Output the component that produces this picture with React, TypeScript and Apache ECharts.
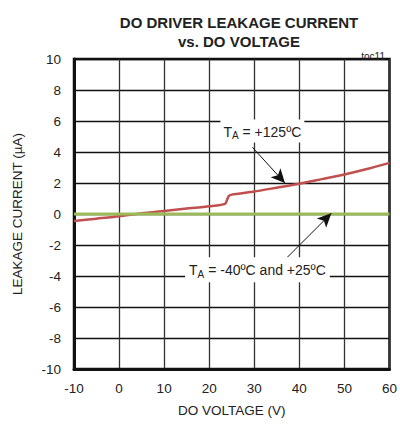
import React, { useEffect, useRef } from "react";
import * as echarts from "echarts";

const voltage125 = [-10, -5, 0, 5, 10, 15, 20, 23.5, 24.3, 25, 30, 35, 40, 45, 50, 55, 60];
const current125 = [-0.45, -0.3, -0.15, 0.05, 0.2, 0.35, 0.5, 0.65, 1.15, 1.25, 1.45, 1.7, 1.95, 2.25, 2.55, 2.9, 3.3];
const voltageLow = [-10, 60];
const currentLow = [0, 0];
const xTicks = [-10, 60, 10];
const yTicks = [-10, 10, 2];

const FONT = '"Liberation Sans Narrow", "Liberation Sans", Arial, sans-serif';

export default function App() {
  const ref = useRef<HTMLDivElement>(null);
  useEffect(() => {
    if (!ref.current) return;
    const chart = echarts.init(ref.current, undefined, { renderer: "svg" });
    const rich = {
      a: { fontFamily: FONT, fontSize: 14, color: "#222" },
      s: { fontFamily: FONT, fontSize: 10, color: "#222", padding: [8, 0, 0, 0] },
    };
    chart.setOption({
      animation: false,
      backgroundColor: "#fff",
      title: [
        {
          text: "DO DRIVER LEAKAGE CURRENT\nvs. DO VOLTAGE",
          left: 234,
          top: 8,
          textAlign: "center",
          textStyle: { fontFamily: FONT, fontSize: 15, fontWeight: "bold", color: "#222", lineHeight: 19 },
        },
        {
          text: "toc11",
          right: 10,
          top: 46,
          textStyle: { fontFamily: FONT, fontSize: 10, fontWeight: "normal", fontStyle: "normal", color: "#222" },
        },
      ],
      grid: { left: 74, right: 10, top: 59, bottom: 56, show: true, borderColor: "#111", borderWidth: 2.5 },
      xAxis: {
        type: "value",
        min: xTicks[0],
        max: xTicks[1],
        interval: xTicks[2],
        name: "DO VOLTAGE (V)",
        nameLocation: "middle",
        nameGap: 34,
        nameTextStyle: { fontFamily: FONT, fontSize: 13.5, color: "#222" },
        axisLine: { show: true, onZero: false, lineStyle: { color: "#111", width: 3 } },
        axisTick: { show: false },
        axisLabel: { fontFamily: FONT, fontSize: 13.5, color: "#222", margin: 12 },
        splitLine: { show: true, lineStyle: { color: "#333", width: 1.3 } },
      },
      yAxis: {
        type: "value",
        min: yTicks[0],
        max: yTicks[1],
        interval: yTicks[2],
        name: "LEAKAGE CURRENT (µA)",
        nameLocation: "middle",
        nameGap: 50,
        nameTextStyle: { fontFamily: FONT, fontSize: 13.5, color: "#222" },
        axisLine: { show: true, onZero: false, lineStyle: { color: "#111", width: 3 } },
        axisTick: { show: false },
        axisLabel: { fontFamily: FONT, fontSize: 13.5, color: "#222", margin: 13 },
        splitLine: { show: true, lineStyle: { color: "#111", width: 1.3 } },
      },
      series: [
        {
          type: "line",
          data: voltage125.map((v, i) => [v, current125[i]]),
          showSymbol: false,
          smooth: 0.2,
          lineStyle: { color: "#c0504d", width: 2.5 },
          z: 3,
          markLine: {
            silent: true,
            symbol: ["none", "arrow"],
            symbolSize: [10, 14],
            label: { show: false },
            lineStyle: { color: "#111", width: 1, type: "solid" },
            data: [
              [{ coord: [29.6, 4.3] }, { coord: [36.8, 2.0] }],
              [{ coord: [37.3, -2.8] }, { coord: [47.1, 0.05] }],
            ],
          },
          markPoint: {
            silent: true,
            symbol: "rect",
            symbolSize: 0,
            data: [
              {
                coord: [31.8, 5.35],
                label: {
                  show: true,
                  position: "inside",
                  formatter: "{a|T}{s|A}{a| = +125ºC}",
                  backgroundColor: "#fff",
                  padding: [3, 3, 2, 3],
                  rich,
                },
              },
              {
                coord: [30.7, -3.6],
                label: {
                  show: true,
                  position: "inside",
                  formatter: "{a|T}{s|A}{a| = -40ºC and +25ºC}",
                  backgroundColor: "#fff",
                  padding: [4, 4, 3, 4],
                  rich,
                },
              },
            ],
          },
        },
        {
          type: "line",
          data: voltageLow.map((v, i) => [v, currentLow[i]]),
          showSymbol: false,
          lineStyle: { color: "#9bbb59", width: 3 },
          z: 4,
        },
      ],
    });
    return () => chart.dispose();
  }, []);
  return <div ref={ref} style={{ width: 400, height: 425, position: "absolute", left: 0, top: 0 }} />;
}
